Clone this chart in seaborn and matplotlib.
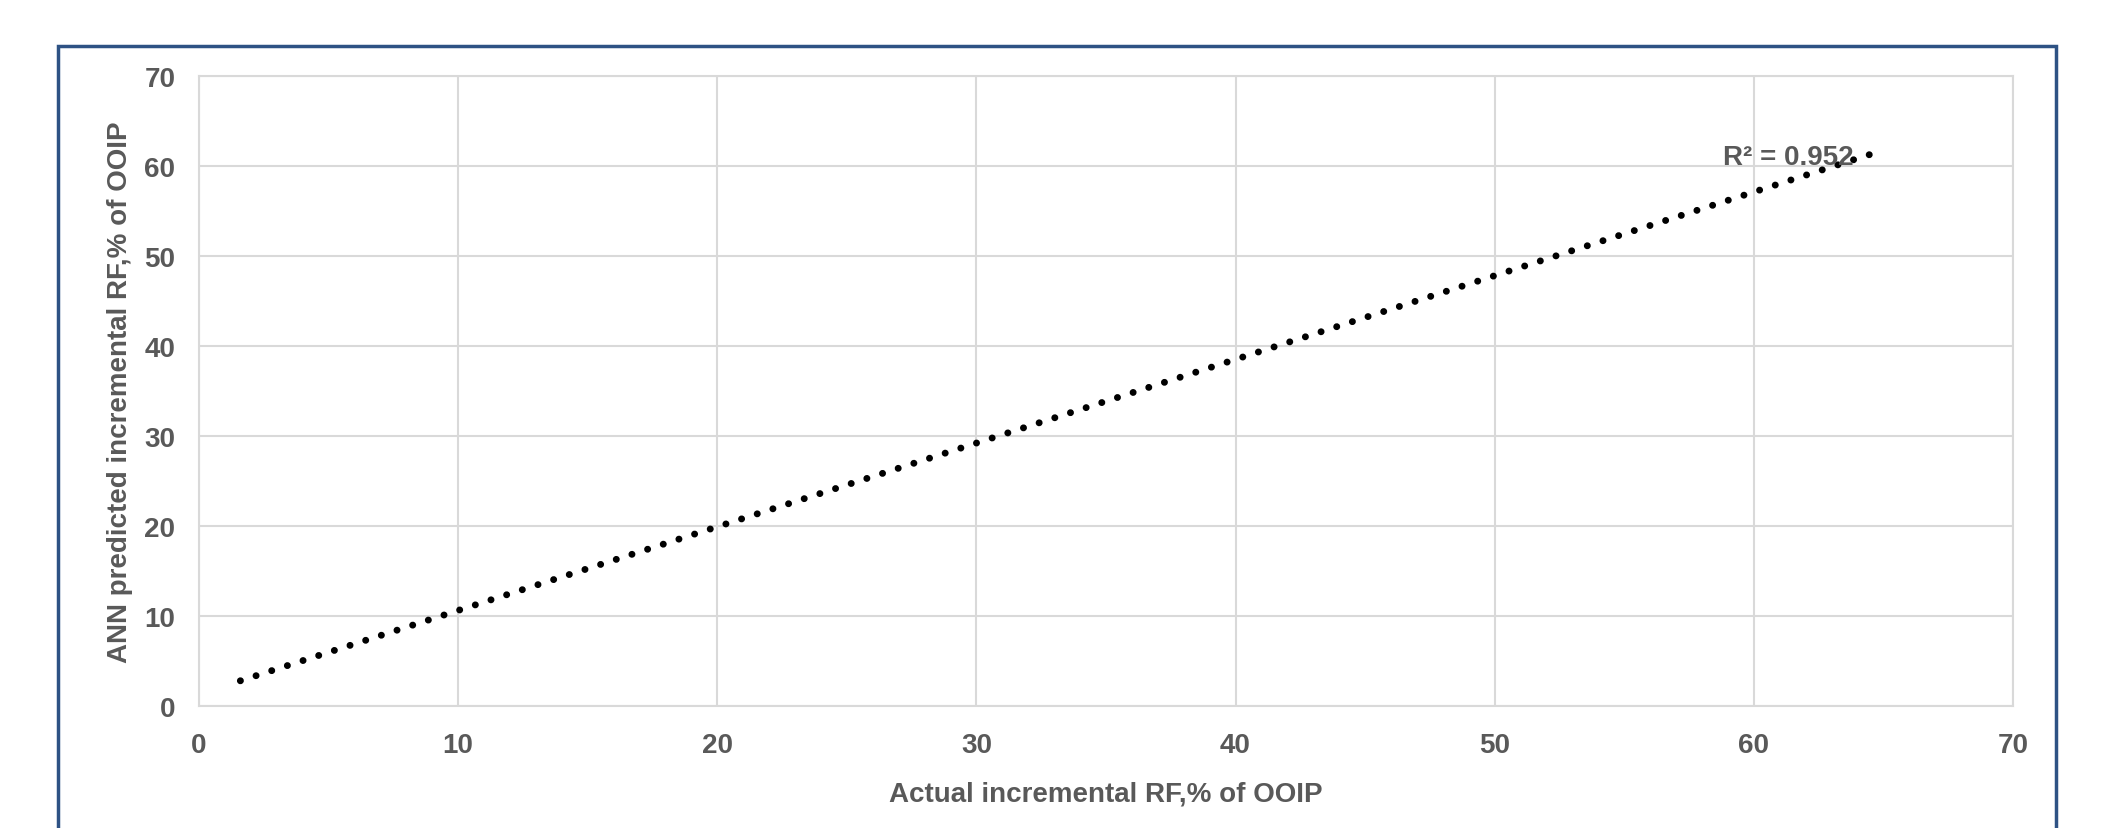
import matplotlib
matplotlib.use("Agg")
import matplotlib.pyplot as plt
import seaborn as sns
import pandas as pd
from matplotlib.patches import Rectangle

# trendline end points
trend_x = [1.6, 64.5]
trend_y = [2.8, 61.3]
r2_label = "R² = 0.952"
x_ticks = [0, 10, 20, 30, 40, 50, 60, 70]
y_ticks = [0, 10, 20, 30, 40, 50, 60, 70]

sns.set_theme(style="whitegrid")
plt.rcParams['font.family'] = ['Liberation Sans', 'DejaVu Sans']
plt.rcParams['font.weight'] = 'bold'

grey = '#595959'
fs = 20
fig = plt.figure(figsize=(21.07, 8.29), dpi=100)
ax = fig.add_axes([0.0944, 0.1472, 0.8610, 0.7599])

df = pd.DataFrame({'x': trend_x, 'y': trend_y})
sns.lineplot(data=df, x='x', y='y', ax=ax, color='black', linewidth=5,
             linestyle=(0, (0.01, 2.36)), dash_capstyle='round')

ax.set_xlim(0, 70)
ax.set_ylim(0, 70)
ax.set_xticks(x_ticks)
ax.set_yticks(y_ticks)
ax.grid(True, color='#d9d9d9', linewidth=1.5)
for s in ax.spines.values():
    s.set_color('#d9d9d9')
    s.set_linewidth(1.5)
ax.tick_params(axis='x', length=0, labelsize=fs, labelcolor=grey, pad=19)
ax.tick_params(axis='y', length=0, labelsize=fs, labelcolor=grey, pad=17)
for lab in ax.get_xticklabels() + ax.get_yticklabels():
    lab.set_fontweight('bold')

ax.set_xlabel('Actual incremental RF,% of OOIP', fontsize=fs, fontweight='bold',
              color=grey, labelpad=16)
ax.set_ylabel('ANN predicted incremental RF,% of OOIP', fontsize=fs,
              fontweight='bold', color=grey, labelpad=8)

ax.text(58.8, 60.2, r2_label, fontsize=fs, fontweight='bold', color=grey,
        ha='left', va='baseline')

# outer chart border (bottom edge is cropped in the original)
fig.patches.append(Rectangle((58 / 2107, -0.1), (2056 - 58) / 2107,
                             1 - 47 / 829 + 0.1, transform=fig.transFigure,
                             fill=False, edgecolor='#2E5284', linewidth=2.5))

fig.savefig('out.png', dpi=100)
